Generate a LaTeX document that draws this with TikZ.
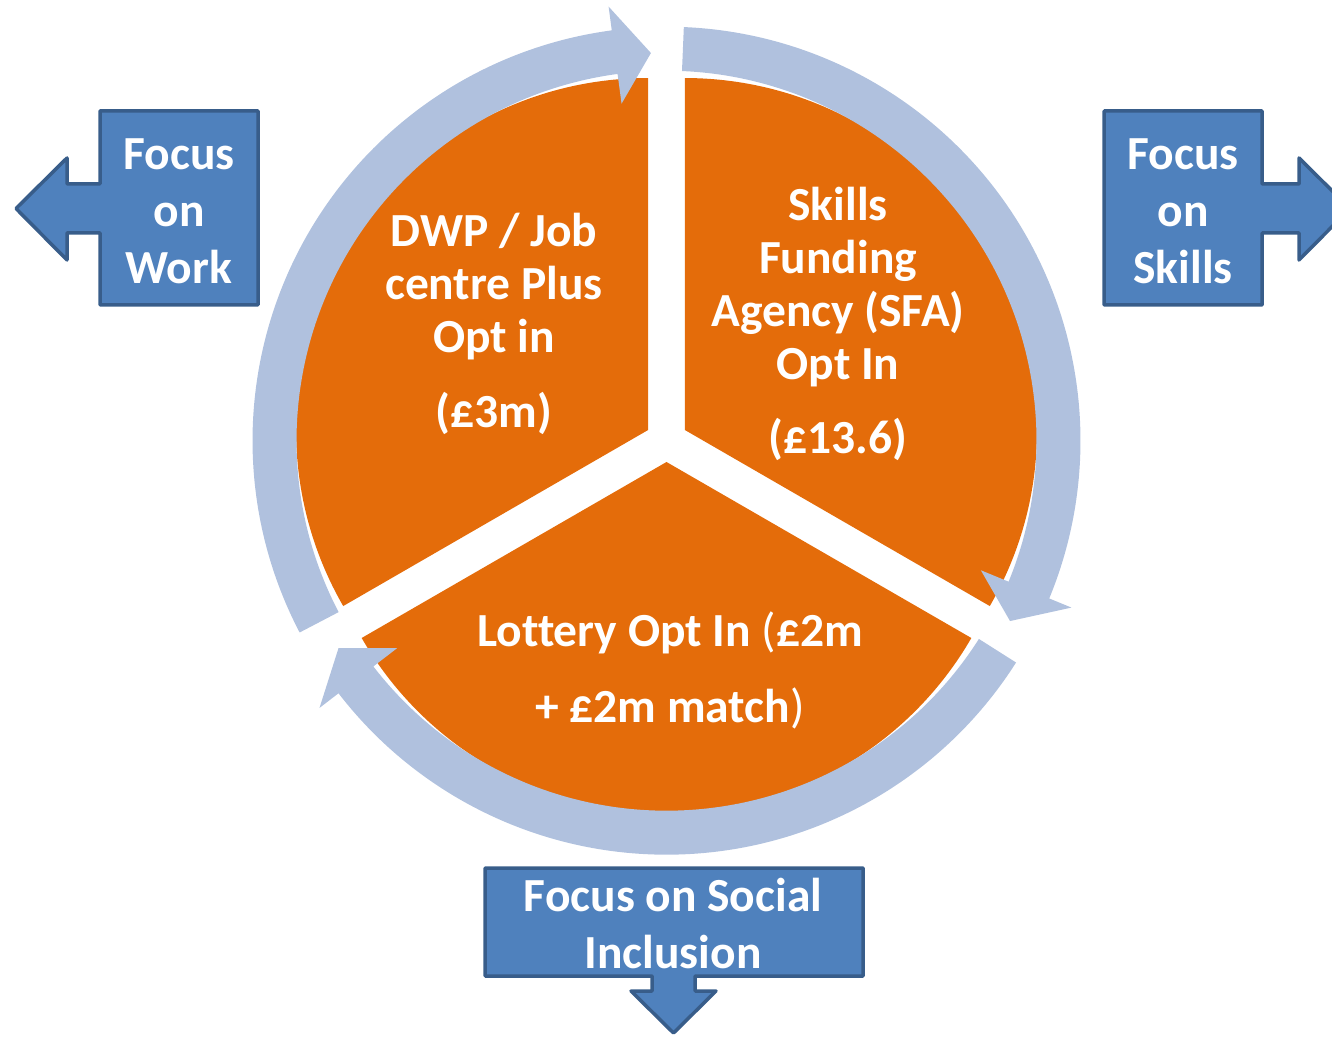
\documentclass[tikz,border=0pt]{standalone}
\usepackage{fontspec}
\setmainfont{Carlito}[Ligatures=NoCommon]
\usepackage{tikz}
\usetikzlibrary{positioning}
\definecolor{pieorange}{RGB}{228,108,10}
\definecolor{ringblue}{RGB}{176,193,222}
\definecolor{boxblue}{RGB}{79,129,189}
\definecolor{boxedge}{RGB}{56,93,138}
\tikzstyle{sector} = [fill=pieorange]
\tikzstyle{cyclearrow} = [fill=ringblue]
\tikzstyle{focus} = [draw=boxedge, fill=boxblue, line width=3.5pt, line join=round]
\tikzstyle{pietext} = [text=white, align=center, font=\bfseries\fontsize{47.5}{53}\selectfont]
\tikzstyle{focustext} = [text=white, align=center, font=\bfseries\fontsize{47.5}{57}\selectfont]

\begin{document}
\begin{tikzpicture}[x=1pt, y=1pt]
    \clip (0,0) rectangle (1332,1039);
    % three pie pieces, pushed out a little, and the ring of arrows round them
    \begin{scope}[shift={(666.5,598.3)}]
        \foreach \s in {-30,90,210}{
            \fill[sector] ({\s+60}:21.3) -- ++(\s:352)
                arc[start angle=\s, end angle=\s+120, radius=352] -- cycle;
        }
        \foreach \t in {87.6,207.6,327.6}{
            \fill[cyclearrow] (\t:414) arc[start angle=\t, end angle=\t-110, radius=414]
                -- ({\t-110}:438) -- ({\t-115.3}:388) -- ({\t-110}:340) -- ({\t-110}:370)
                arc[start angle=\t-110, end angle=\t, radius=370] -- cycle;
        }
    \end{scope}

    \node[pietext] (dwp) at (494,752) {DWP / Job\\centre Plus\\Opt in};
    \node[pietext] (dwpsum) at (494,626) {(£3m)};
    \node[pietext] (sfa) at (838,752) {Skills\\Funding\\Agency (SFA)\\Opt In};
    \node[pietext] (sfasum) at (838,600) {(£13.6)};
    \node[pietext] (lottery) at (670,369) {Lottery Opt In {\mdseries(}£2m\\[23pt]+ £2m match{\mdseries)}};

    % focus boxes with their arrows
    \draw[focus] (100,928) -- (258,928) -- (258,734) -- (100,734) -- (100,806) -- (67,806)
        -- (67,779) -- (16,830.5) -- (67,881) -- (67,855) -- (100,855) -- cycle;
    \node[focustext] (work) at (179,828) {Focus\\on\\Work};

    \draw[focus] (1104,928) -- (1262,928) -- (1262,855) -- (1299,855) -- (1299,881)
        -- (1350,830.5) -- (1299,779) -- (1299,806) -- (1262,806) -- (1262,734) -- (1104,734) -- cycle;
    \node[focustext] (skills) at (1183,828) {Focus\\on\\Skills};

    \draw[focus] (485,171) -- (863,171) -- (863,63) -- (695,63) -- (695,48) -- (716,48)
        -- (673.5,6) -- (631,48) -- (652,48) -- (652,63) -- (485,63) -- cycle;
    \node[focustext] (social) at (673,115.5) {Focus on Social\\Inclusion};
\end{tikzpicture}
\end{document}
